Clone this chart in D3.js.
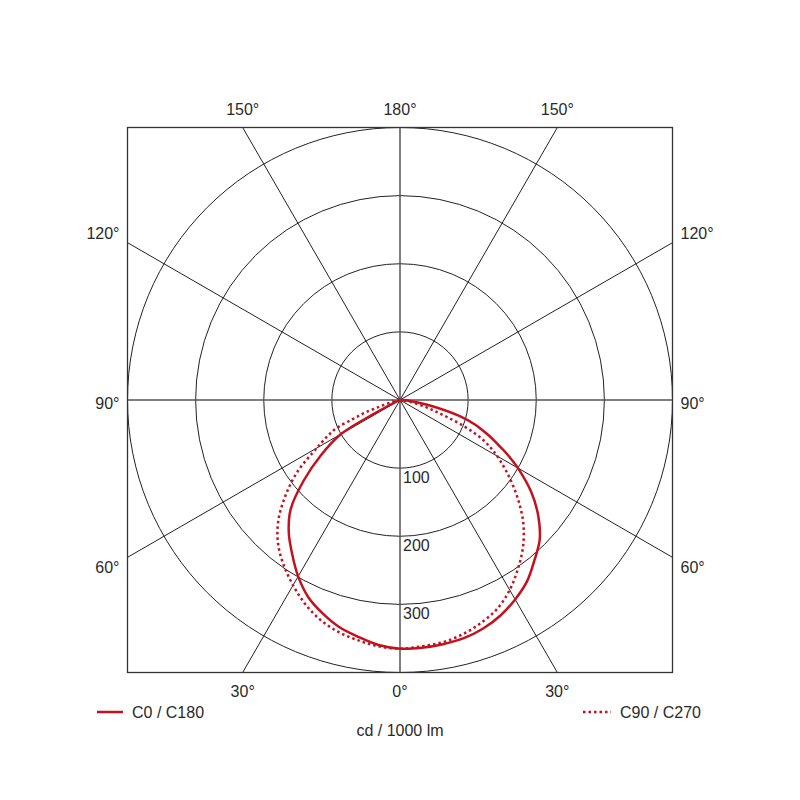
<!doctype html>
<html>
  <head>
    <meta charset="utf-8">
    <title>Polar light distribution</title>
    <script src="https://cdnjs.cloudflare.com/ajax/libs/d3/7.8.5/d3.min.js"></script>
    <style>
      body { margin: 0; background: #fff; }
      svg { display: block; font-family: "Liberation Sans", Arial, sans-serif; }
      text { fill: #2a2a2a; font-size: 16px; }
    </style>
  </head>
  <body>
    <div id="chart"></div>
    <script>
      // gamma angles (deg from nadir) and intensities in cd / 1000 lm
      const angles = [0, 5, 10, 15, 20, 25, 30, 35, 40, 45, 50, 55, 60, 62, 64, 66, 68, 70, 72, 75, 80, 85, 90];
      const c0   = [365, 365, 364, 362, 357, 349, 338, 325, 307, 290, 265, 235, 200, 185, 170, 155, 142, 128, 115, 90, 42, 15, 0];
      const c180 = [365, 361, 353, 345, 333, 319, 299, 276, 254, 227, 185, 142, 100, 45, 15, 6, 3, 2, 1, 0, 0, 0, 0];
      const c90  = [365, 363, 361, 356, 348, 338, 322, 302, 281, 256, 226, 195, 165, 152, 138, 120, 98, 75, 56, 38, 15, 4, 0];
      const c270 = [365, 363, 358, 352, 343, 330, 314, 297, 278, 253, 220, 184, 141, 128, 116, 103, 75, 55, 32, 14, 4, 1, 0];

      const ringValues = [100, 200, 300, 400];
      const ringLabels = [100, 200, 300];
      const spokeAngles = [0, 30, 60, 90, 120, 150, 180, 210, 240, 270, 300, 330];
      const topLabels = ['150°', '180°', '150°'];
      const bottomLabels = ['30°', '0°', '30°'];
      const sideLabels = ['120°', '90°', '60°'];
      const legendLabels = ['C0 / C180', 'C90 / C270'];
      const unitLabel = 'cd / 1000 lm';

      const W = 800, H = 800, cx = 400, cy = 400, R = 272.5;
      const red = '#c4111f';

      const svg = d3.select('#chart').append('svg')
        .attr('width', W).attr('height', H);

      const r = d3.scaleLinear().domain([0, 400]).range([0, R]);

      svg.append('clipPath').attr('id', 'box')
        .append('rect')
        .attr('x', cx - R).attr('y', cy - R)
        .attr('width', 2 * R).attr('height', 2 * R);

      const g = svg.append('g').attr('transform', `translate(${cx},${cy})`);
      const grid = g.append('g').attr('clip-path', 'url(#box)')
        .attr('transform', `translate(${-cx},${-cy})`)
        .append('g').attr('transform', `translate(${cx},${cy})`);

      // rings
      grid.selectAll('circle.ring')
        .data(ringValues)
        .join('circle')
        .attr('class', 'ring')
        .attr('r', d => r(d))
        .attr('fill', 'none')
        .attr('stroke', '#222')
        .attr('stroke-width', 1);

      // spokes (angle measured from downward vertical)
      grid.selectAll('line.spoke')
        .data(spokeAngles)
        .join('line')
        .attr('class', 'spoke')
        .attr('x1', 0).attr('y1', 0)
        .attr('x2', d => 2 * R * Math.sin(d * Math.PI / 180))
        .attr('y2', d => 2 * R * Math.cos(d * Math.PI / 180))
        .attr('stroke', d => d % 90 === 0 ? '#555' : '#222')
        .attr('stroke-width', d => d % 90 === 0 ? 1.5 : 1);

      // frame
      g.append('rect')
        .attr('x', -R).attr('y', -R)
        .attr('width', 2 * R).attr('height', 2 * R)
        .attr('fill', 'none')
        .attr('stroke', '#333')
        .attr('stroke-width', 1.3);

      // ring value labels
      g.selectAll('text.ringlab')
        .data(ringLabels)
        .join('text')
        .attr('class', 'ringlab')
        .attr('x', 3)
        .attr('y', d => r(d) + 15)
        .text(d => d);

      // angle labels around the frame
      const edgeOffset = R * Math.tan(Math.PI / 6);
      g.selectAll('text.top')
        .data(topLabels)
        .join('text')
        .attr('class', 'top')
        .attr('text-anchor', 'middle')
        .attr('x', (d, i) => (i - 1) * edgeOffset)
        .attr('y', -R - 13)
        .text(d => d);

      g.selectAll('text.bottom')
        .data(bottomLabels)
        .join('text')
        .attr('class', 'bottom')
        .attr('text-anchor', 'middle')
        .attr('x', (d, i) => (i - 1) * edgeOffset)
        .attr('y', R + 24)
        .text(d => d);

      const sideY = (i) => (i - 1) * edgeOffset + [-10, 3, 10][i] + 6;
      g.selectAll('text.left')
        .data(sideLabels)
        .join('text')
        .attr('class', 'left')
        .attr('text-anchor', 'end')
        .attr('x', -R - 8)
        .attr('y', (d, i) => sideY(i))
        .text(d => d);

      g.selectAll('text.right')
        .data(sideLabels)
        .join('text')
        .attr('class', 'right')
        .attr('text-anchor', 'start')
        .attr('x', R + 8)
        .attr('y', (d, i) => sideY(i))
        .text(d => d);

      // curves: left half (C180 / C270) then right half (C0 / C90)
      const toRad = a => a * Math.PI / 180;
      const curvePoints = (left, right) => {
        const pts = [];
        for (let i = angles.length - 1; i >= 0; i--) pts.push([Math.PI + toRad(angles[i]), left[i]]);
        for (let i = 1; i < angles.length; i++) pts.push([Math.PI - toRad(angles[i]), right[i]]);
        return pts;
      };

      const radial = d3.lineRadial()
        .angle(d => d[0])
        .radius(d => r(d[1]))
        .curve(d3.curveCatmullRom.alpha(0.5));

      g.append('path')
        .attr('d', radial(curvePoints(c270, c90)))
        .attr('fill', 'none')
        .attr('stroke', red)
        .attr('stroke-width', 2.5)
        .attr('stroke-dasharray', '2.5,3');

      g.append('path')
        .attr('d', radial(curvePoints(c180, c0)))
        .attr('fill', 'none')
        .attr('stroke', red)
        .attr('stroke-width', 2.5);

      // legend
      const legY = 712;
      svg.append('line')
        .attr('x1', 97).attr('x2', 123)
        .attr('y1', legY).attr('y2', legY)
        .attr('stroke', red).attr('stroke-width', 2.5);
      svg.append('text')
        .attr('x', 132).attr('y', legY + 6)
        .text(legendLabels[0]);

      svg.append('line')
        .attr('x1', 583).attr('x2', 611)
        .attr('y1', legY).attr('y2', legY)
        .attr('stroke', red).attr('stroke-width', 2.5)
        .attr('stroke-dasharray', '2.5,3');
      svg.append('text')
        .attr('x', 620).attr('y', legY + 6)
        .text(legendLabels[1]);

      svg.append('text')
        .attr('x', cx).attr('y', 736)
        .attr('text-anchor', 'middle')
        .text(unitLabel);
    </script>
  </body>
</html>
